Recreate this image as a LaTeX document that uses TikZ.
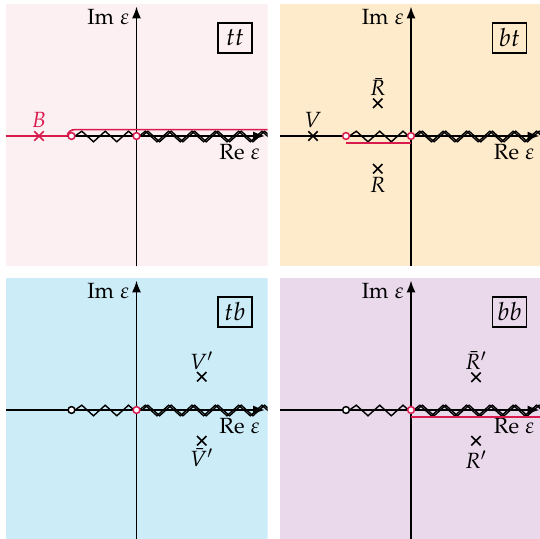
\documentclass[tikz,border=0pt]{standalone}
\usepackage{mathpazo}
\usetikzlibrary{arrows.meta,shapes.misc}
\definecolor{crim}{HTML}{D91A4D}
\definecolor{bgtt}{HTML}{FDF0F3}
\definecolor{bgbt}{HTML}{FDEBCC}
\definecolor{bgtb}{HTML}{CCECF8}
\definecolor{bgbb}{HTML}{EAD8EB}
\tikzset{
  axisline/.style={line width=0.9pt, -{Latex[length=6pt,width=4.6pt]}},
  zz/.style={line width=0.7pt, line join=miter},
  hole/.style={circle, draw=#1, fill=white, line width=0.75pt, minimum size=3.4pt, inner sep=0pt},
  pole/.style={cross out, draw=#1, line width=0.8pt, minimum size=3.9pt, inner sep=0pt},
  sheetbox/.style={draw, line width=0.75pt, minimum width=17pt, minimum height=15pt, inner sep=0pt, font=\fontsize{12.5pt}{14pt}\selectfont},
  contour/.style={draw=crim, line width=0.8pt},
}
% #1 shift, #2 background, #3 name prefix, #4 sheet label
\newcommand{\planeopen}[4]{%
  \begin{scope}[shift={(#1)}]
  \clip (5.5,4.5) rectangle (267.5,266.5);
  \fill[#2] (5.5,4.5) rectangle (267.5,266.5);
  \draw[axisline] (5.5,136) -- (265,136);
  \draw[axisline] (136.5,266.5) -- (136.5,6.5);
  \node[anchor=base east, inner sep=0pt] (#3im) at (129.5,25) {$\mathrm{Im}\;\varepsilon$};
  \node[anchor=north east, inner sep=0pt] (#3re) at (260,143.5) {$\mathrm{Re}\;\varepsilon$};
  \node[sheetbox] (#3box) at (235,38) {$#4$};
  \draw[zz] (75,136) -- (81.8,131.2) -- (93.5,141.8) -- (105.2,131.2) -- (116.8,141.8) -- (128.5,131.2) -- (134,136);
  \foreach \s in {0,2.6}{
    \draw[zz, shift={(\s,0)}] (139.5,136) foreach \i in {0,...,11}{ -- ({145.3+11.67*\i},{131.2+10.6*mod(\i,2)}) };
  }
}
\begin{document}
\begin{tikzpicture}[x=0.5pt,y=-0.5pt, font=\fontsize{11pt}{13pt}\selectfont]
\useasboundingbox (0,0) rectangle (540,539);
\clip (0,0) rectangle (540,539);

% ---------- tt ----------
\planeopen{0,0}{bgtt}{tt}{tt}
  \coordinate (ttc1) at (5.5,136);
  \coordinate (ttc2) at (75,129.6);
  \coordinate (ttc3) at (268,129.6);
  \node[hole=crim] (ttl) at (71.5,136) {};
  \draw[contour] (ttc1) -- (ttl.west);
  \draw[contour] (ttl.west) to[out=90,in=180] (ttc2) -- (ttc3);
  \node[hole=crim] (tto) at (136.5,136) {};
  \node[pole=crim] (ttB) at (39,136) {};
  \node[anchor=base, inner sep=0pt, text=crim] (ttBl) at (39,128) {$B$};
\end{scope}

% ---------- bt ----------
\planeopen{274.5,0}{bgbt}{bt}{bt}
  \coordinate (btc1) at (71.5,143.2);
  \coordinate (btc2) at (136.5,143.2);
  \draw[contour] (btc1) -- (btc2);
  \node[hole=crim] (btl) at (71.5,136) {};
  \node[hole=crim] (bto) at (136.5,136) {};
  \node[pole=black] (btV) at (38.5,136) {};
  \node[anchor=base, inner sep=0pt] (btVl) at (38.5,128) {$V$};
  \node[pole=black] (btRb) at (103.2,103.3) {};
  \node[anchor=base, inner sep=0pt] (btRbl) at (103.2,96) {$\bar R$};
  \node[pole=black] (btR) at (103.2,168.7) {};
  \node[anchor=north, inner sep=0pt] (btRl) at (103.2,177) {$R$};
\end{scope}

% ---------- tb ----------
\planeopen{0,274}{bgtb}{tb}{tb}
  \node[hole=black] (tbl) at (71.5,136) {};
  \node[hole=crim] (tbo) at (136.5,136) {};
  \node[pole=black] (tbV) at (201.7,102.7) {};
  \node[anchor=base, inner sep=0pt] (tbVl) at (201.7,95.5) {$V'$};
  \node[pole=black] (tbVb) at (201.7,166.7) {};
  \node[anchor=north, inner sep=0pt] (tbVbl) at (201.7,174) {$\bar V'$};
\end{scope}

% ---------- bb ----------
\planeopen{274.5,274}{bgbb}{bb}{bb}
  \coordinate (bbc1) at (136.5,143);
  \coordinate (bbc2) at (270,143);
  \draw[contour] (bbc1) -- (bbc2);
  \node[hole=black] (bbl) at (71.5,136) {};
  \node[hole=crim] (bbo) at (136.5,136) {};
  \node[pole=black] (bbRb) at (201.5,103.3) {};
  \node[anchor=base, inner sep=0pt] (bbRbl) at (201.5,95.5) {$\bar R'$};
  \node[pole=black] (bbR) at (201.5,166.7) {};
  \node[anchor=north, inner sep=0pt] (bbRl) at (201.5,176) {$R'$};
\end{scope}
\end{tikzpicture}
\end{document}
